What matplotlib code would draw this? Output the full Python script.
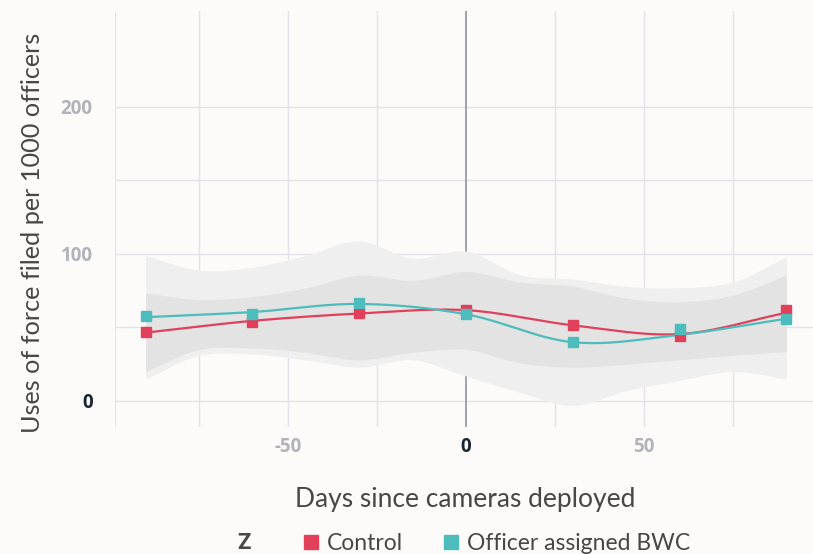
import numpy as np
import matplotlib
matplotlib.use("Agg")
import matplotlib.pyplot as plt
from matplotlib.lines import Line2D

# ---- data ----
days = [-90, -60, -30, 0, 30, 60, 90]
control = [47, 54, 60, 62, 52, 44, 62]
bwc = [58, 59, 66.7, 59.5, 40, 49, 56]
# smoothed fit lines at the same days
control_fit = [46.5, 54.5, 59.5, 61.8, 51.5, 45.5, 60]
bwc_fit = [57, 60.5, 66, 59, 40, 45, 56]

band_x = [-90, -75, -60, -45, -30, -15, 0, 15, 30, 45, 60, 75, 90]
outer_hi = [99, 89, 91, 99, 109, 97, 102, 86, 83, 78, 77, 81, 98]
outer_lo = [15, 31, 32, 28, 23, 28, 17, 6, -3, 7, 14, 20, 15]
inner_hi = [73.5, 69, 71, 77, 85.7, 82, 88, 81, 78, 70, 67.5, 72, 85.7]
inner_lo = [20, 35, 36, 33, 28, 33, 35, 26, 23, 25, 28, 31, 33.5]

x_ticks = [-50, 0, 50]
y_ticks = [0, 100, 200]
legend_labels = ["Control", "Officer assigned BWC"]

RED = "#e0405a"
TEAL = "#4dbcbc"
BG = "#fcfbfa"
GRID = "#e2e2e8"
TXT = "#474747"
BOLD_FAMILY = ['Open Sans', 'DejaVu Sans']


def catmull(xs, ys, n=30):
    xs = np.asarray(xs, float)
    ys = np.asarray(ys, float)
    px = np.concatenate([[2 * xs[0] - xs[1]], xs, [2 * xs[-1] - xs[-2]]])
    py = np.concatenate([[2 * ys[0] - ys[1]], ys, [2 * ys[-1] - ys[-2]]])
    ox, oy = [], []
    t = np.linspace(0, 1, n, endpoint=False)
    for i in range(1, len(px) - 2):
        for arr, out in ((px, ox), (py, oy)):
            p0, p1, p2, p3 = arr[i - 1], arr[i], arr[i + 1], arr[i + 2]
            out.extend(0.5 * ((2 * p1) + (-p0 + p2) * t
                              + (2 * p0 - 5 * p1 + 4 * p2 - p3) * t ** 2
                              + (-p0 + 3 * p1 - 3 * p2 + p3) * t ** 3))
    ox.append(xs[-1])
    oy.append(ys[-1])
    return np.array(ox), np.array(oy)


plt.rcParams['font.family'] = ['Lato', 'DejaVu Sans']

fig = plt.figure(figsize=(8.13, 5.54), dpi=100, facecolor=BG)
ax = fig.add_axes([115 / 813, 1 - 427 / 554, 1 - 115 / 813, (427 - 11) / 554])
ax.set_facecolor(BG)
ax.set_xlim(-98.6, 97.5)
ax.set_ylim(-17.7, 265.3)

# grid
for gy in [0, 50, 100, 150, 200]:
    ax.axhline(gy, color=GRID, lw=1.0, zorder=0)
for gx in [-75, -50, -25, 25, 50, 75]:
    ax.axvline(gx, color=GRID, lw=1.0, zorder=0)
ax.axvline(0, color="#8d93a3", lw=1.2, zorder=1)

# bands
bx, bhi = catmull(band_x, outer_hi)
_, blo = catmull(band_x, outer_lo)
ax.fill_between(bx, blo, bhi, color="#efefef", lw=0, zorder=2)
bx, ihi = catmull(band_x, inner_hi)
_, ilo = catmull(band_x, inner_lo)
ax.fill_between(bx, ilo, ihi, color="#e3e3e3", lw=0, zorder=2)

# lines
for vals, col in ((control_fit, RED), (bwc_fit, TEAL)):
    sx, sy = catmull(days, vals)
    ax.plot(sx, sy, color=col, lw=1.6, zorder=3)
for vals, col in ((control, RED), (bwc, TEAL)):
    ax.plot(days, vals, ls="none", marker="s", ms=7.5, color=col,
            mec=col, zorder=4)

for s in ax.spines.values():
    s.set_visible(False)
ax.axvline(-98.6, color=GRID, lw=1.5, zorder=0)

ax.set_xticks(x_ticks)
ax.set_yticks(y_ticks)
ax.tick_params(length=0)
ax.tick_params(axis="x", pad=7)
ax.tick_params(axis="y", pad=16)
ax.set_xticklabels([str(v) for v in x_ticks], fontsize=13.5, fontweight="bold",
                   family=BOLD_FAMILY)
ax.set_yticklabels([str(v) for v in y_ticks], fontsize=13.5, fontweight="bold",
                   family=BOLD_FAMILY)
for lbl in ax.get_xticklabels() + ax.get_yticklabels():
    lbl.set_color("#1b2532" if lbl.get_text() == "0" else "#b1b2ba")

fig.text(465 / 813, 1 - 500 / 554, "Days since cameras deployed", ha="center",
         va="center", fontsize=19, color=TXT)
fig.text(33 / 813, 1 - 233 / 554, "Uses of force filed per 1000 officers",
         ha="center", va="center", rotation=90, fontsize=18.2, color=TXT)

fig.text(244 / 813, 1 - 543 / 554, "Z", ha="center", va="center",
         fontsize=16, fontweight="bold", color=TXT,
         family=['Roboto', 'DejaVu Sans'])
handles = [Line2D([], [], ls="none", marker="s", ms=10, color=c, mec=c)
           for c in (RED, TEAL)]
fig.legend(handles, legend_labels, loc="center", ncol=2,
           bbox_to_anchor=(495 / 813, 1 - 544 / 554), frameon=False,
           fontsize=16.5, handletextpad=0.2, columnspacing=1.6,
           handlelength=1.0, labelcolor=TXT)

fig.savefig("out.png", dpi=100, facecolor=BG)
